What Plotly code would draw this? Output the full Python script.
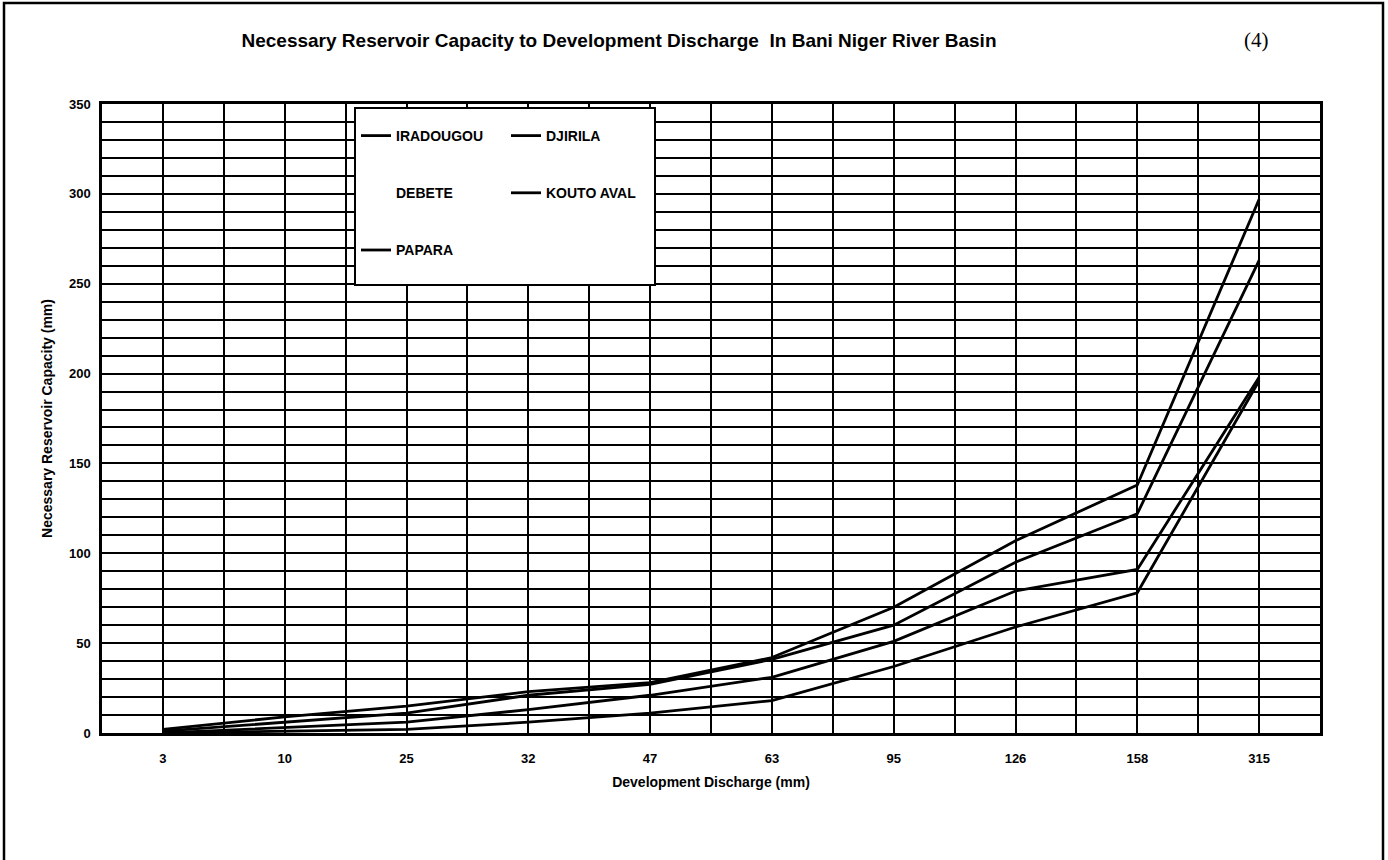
import plotly.graph_objects as go

# Development discharge categories (mm)
categories = ["3", "10", "25", "32", "47", "63", "95", "126", "158", "315"]

# Necessary reservoir capacity (mm) per station
iradougou = [2, 9, 15, 23, 28, 42, 70, 107, 138, 297]
djirila = [1, 6, 11, 21, 27, 41, 60, 95, 122, 263]
debete = [None] * 10
kouto_aval = [0, 3, 6, 13, 21, 31, 51, 79, 91, 198]
papara = [0, 1, 2, 6, 11, 18, 37, 59, 78, 196]

y_ticks = [0, 50, 100, 150, 200, 250, 300, 350]

W, H = 1388, 860
L, R, T, B = 102, 68, 104, 127
pw, ph = W - L - R, H - T - B


def px_x(p):
    return (p - L) / pw


def px_y(p):
    return (H - B - p) / ph


xs = list(range(len(categories)))

fig = go.Figure()

series = [
    ("IRADOUGOU", iradougou, "legend", 2.8),
    ("DEBETE", debete, "legend", 0),
    ("PAPARA", papara, "legend", 2.8),
    ("DJIRILA", djirila, "legend2", 2.8),
    ("KOUTO AVAL", kouto_aval, "legend2", 2.8),
]
for name, vals, leg, w in series:
    fig.add_trace(go.Scatter(
        x=xs, y=vals, name=name, mode="lines",
        line=dict(color="black", width=w),
        legend=leg, legendgroup=name,
    ))

sans = "Liberation Sans, Arial, sans-serif"
legend_font = dict(family=sans, size=14, color="black", weight="bold")
fig.update_layout(
    width=W, height=H,
    margin=dict(l=L, r=R, t=T, b=B),
    paper_bgcolor="white", plot_bgcolor="white",
    showlegend=True,
    title=dict(
        text="Necessary Reservoir Capacity to Development Discharge  In Bani Niger River Basin",
        font=dict(family=sans, size=19, color="black", weight="bold"),
        x=619 / W, xref="container", xanchor="center",
        y=1 - 40 / H, yref="container", yanchor="middle",
    ),
    legend=dict(
        x=px_x(356), y=px_y(120), xanchor="left", yanchor="top",
        bgcolor="rgba(0,0,0,0)", borderwidth=0, font=legend_font,
        tracegroupgap=36, itemclick=False, itemdoubleclick=False,
    ),
    legend2=dict(
        x=px_x(506), y=px_y(120), xanchor="left", yanchor="top",
        bgcolor="rgba(0,0,0,0)", borderwidth=0, font=legend_font,
        tracegroupgap=36, itemclick=False, itemdoubleclick=False,
    ),
)

tick_font = dict(family=sans, size=13, color="black", weight="bold")
axis_title_font = dict(family=sans, size=14, color="black", weight="bold")

fig.update_xaxes(
    range=[-0.5, len(categories) - 0.5],
    tickmode="array", tickvals=xs, ticktext=categories,
    tickfont=tick_font, ticks="", ticklabelstandoff=12,
    showgrid=True, gridcolor="black", gridwidth=2,
    minor=dict(tickmode="linear", tick0=-0.5, dtick=0.5,
               showgrid=True, gridcolor="black", gridwidth=2),
    showline=True, linecolor="black", linewidth=2.5, mirror=True,
    zeroline=False,
    title=dict(text="Development Discharge (mm)", font=axis_title_font,
               standoff=12),
)
fig.update_yaxes(
    range=[0, 350],
    tickmode="array", tickvals=y_ticks,
    tickfont=tick_font, ticks="", ticklabelstandoff=6,
    showgrid=True, gridcolor="black", gridwidth=2,
    minor=dict(tickmode="linear", tick0=0, dtick=10,
               showgrid=True, gridcolor="black", gridwidth=2),
    showline=True, linecolor="black", linewidth=2.5, mirror=True,
    zeroline=False,
    title=dict(text="Necessary Reservoir Capacity (mm)", font=axis_title_font,
               standoff=14),
)

# Legend box
fig.add_shape(type="rect", xref="paper", yref="paper",
              x0=px_x(355), x1=px_x(655), y0=px_y(285), y1=px_y(108),
              line=dict(color="black", width=2), fillcolor="white",
              layer="above")

# Page frame
fig.add_shape(type="rect", xref="paper", yref="paper",
              x0=px_x(4), x1=px_x(1383), y0=px_y(900), y1=px_y(3),
              line=dict(color="black", width=2.5), fillcolor="rgba(0,0,0,0)",
              layer="below")

fig.add_annotation(
    text="(4)", xref="paper", yref="paper", x=px_x(1256), y=px_y(40),
    showarrow=False, xanchor="center", yanchor="middle",
    font=dict(family="Liberation Serif, Times New Roman, serif", size=21,
              color="black"),
)

fig.write_html("out.html")
